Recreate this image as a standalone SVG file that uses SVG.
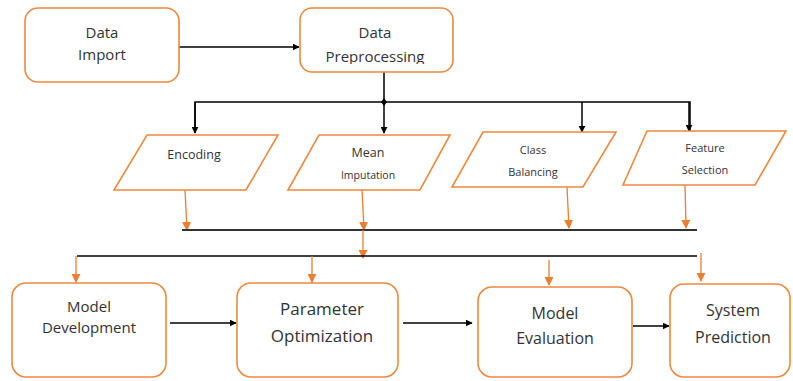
<svg xmlns="http://www.w3.org/2000/svg" width="793" height="381" viewBox="0 0 793 381">
<defs>
<marker id="ab" viewBox="0 0 10 10" refX="9" refY="5" markerWidth="7" markerHeight="7" orient="auto" markerUnits="userSpaceOnUse"><path d="M0,0 L10,5 L0,10 z" fill="#000"/></marker>
<marker id="ao" viewBox="0 0 10 10" refX="9" refY="5" markerWidth="9" markerHeight="9" orient="auto" markerUnits="userSpaceOnUse"><path d="M0,0 L10,5 L0,10 z" fill="#ED7D31"/></marker>
<clipPath id="clipPre"><rect x="300" y="0" width="160" height="64"/></clipPath>
</defs>
<style>
.box{fill:#fff;stroke:#F0883E;stroke-width:1.6}
.par{fill:#fff;stroke:#F0883E;stroke-width:1.6}
.t{font-family:"Open Sans","Liberation Sans",sans-serif;fill:#333;text-anchor:middle}
.bk{stroke:#000;stroke-width:1.5;fill:none}
.gl{stroke:#333;stroke-width:1.8;fill:none}
.or{stroke:#ED7D31;stroke-width:1.3;fill:none}
</style>
<rect width="793" height="381" fill="#fff"/>

<g id="connectors">
<line class="bk" x1="179" y1="47" x2="299" y2="47" marker-end="url(#ab)"/>
<line class="bk" x1="384" y1="72" x2="384" y2="102"/>
<polyline class="bk" points="195,133 195,102 690,102 690,132"/>
<path d="M384,98 L387,102 L384,106 L381,102 z" fill="#000"/>
<line class="bk" x1="195" y1="102" x2="195" y2="133" marker-end="url(#ab)"/>
<line class="bk" x1="384" y1="102" x2="384" y2="133" marker-end="url(#ab)"/>
<line class="bk" x1="582" y1="102" x2="582" y2="132" marker-end="url(#ab)"/>
<line class="bk" x1="689" y1="102" x2="689" y2="131" marker-end="url(#ab)"/>
<line class="or" x1="185" y1="190" x2="187" y2="230" marker-end="url(#ao)"/>
<line class="or" x1="362" y1="190" x2="364" y2="230" marker-end="url(#ao)"/>
<line class="or" x1="567" y1="187" x2="569" y2="228" marker-end="url(#ao)"/>
<line class="or" x1="685" y1="185" x2="686" y2="228" marker-end="url(#ao)"/>
<line class="gl" x1="182" y1="230" x2="697" y2="230"/>
<line class="or" x1="363" y1="230" x2="363" y2="258" marker-end="url(#ao)"/>
<line class="bk" x1="77" y1="256" x2="697" y2="256"/>
<line class="or" x1="76" y1="256" x2="76" y2="282" marker-end="url(#ao)"/>
<line class="or" x1="312" y1="256" x2="312" y2="282" marker-end="url(#ao)"/>
<line class="or" x1="549" y1="260" x2="549" y2="285" marker-end="url(#ao)"/>
<line class="or" x1="701" y1="253" x2="701" y2="281" marker-end="url(#ao)"/>
<line class="bk" x1="170" y1="323" x2="236" y2="323" marker-end="url(#ab)"/>
<line class="bk" x1="403" y1="323" x2="472" y2="323" marker-end="url(#ab)"/>
<line class="bk" x1="633" y1="326" x2="669" y2="326" marker-end="url(#ab)"/>
</g>

<g id="data-import">
<rect class="box" x="25" y="8" width="154" height="74" rx="13"/>
<text class="t" x="102" y="38" font-size="15">Data</text>
<text class="t" x="102" y="60" font-size="15">Import</text>
</g>
<g id="data-preprocessing">
<rect class="box" x="300" y="8" width="153" height="64" rx="12"/>
<text class="t" x="375" y="38" font-size="15">Data</text>
<text class="t" x="375" y="62" font-size="15" clip-path="url(#clipPre)">Preprocessing</text>
</g>

<g id="encoding">
<polygon class="par" points="147,135 278,135 246,190 114,190"/>
<text class="t" x="194" y="159" font-size="12.5">Encoding</text>
</g>
<g id="mean-imputation">
<polygon class="par" points="319,135 450,135 420,190 288,190"/>
<text class="t" x="368" y="157" font-size="12.5">Mean</text>
<text class="t" x="368" y="179" font-size="10.5">Imputation</text>
</g>
<g id="class-balancing">
<polygon class="par" points="483,132 616,132 583,187 452,187"/>
<text class="t" x="533" y="154" font-size="11">Class</text>
<text class="t" x="533" y="176" font-size="11">Balancing</text>
</g>
<g id="feature-selection">
<polygon class="par" points="647,131 786,131 755,185 623,185"/>
<text class="t" x="705" y="152" font-size="11">Feature</text>
<text class="t" x="705" y="174" font-size="11">Selection</text>
</g>

<g id="model-development">
<rect class="box" x="12" y="283" width="154" height="94" rx="14"/>
<text class="t" x="89" y="312" font-size="15">Model</text>
<text class="t" x="89" y="333" font-size="15">Development</text>
</g>
<g id="parameter-optimization">
<rect class="box" x="237" y="283" width="161" height="94" rx="14"/>
<text class="t" x="322" y="315" font-size="17">Parameter</text>
<text class="t" x="322" y="342" font-size="17">Optimization</text>
</g>
<g id="model-evaluation">
<rect class="box" x="478" y="287" width="154" height="90" rx="14"/>
<text class="t" x="555" y="319" font-size="16">Model</text>
<text class="t" x="555" y="344" font-size="16">Evaluation</text>
</g>
<g id="system-prediction">
<rect class="box" x="670" y="284" width="120" height="93" rx="14"/>
<text class="t" x="733" y="316" font-size="16">System</text>
<text class="t" x="733" y="343" font-size="16">Prediction</text>
</g>
</svg>
